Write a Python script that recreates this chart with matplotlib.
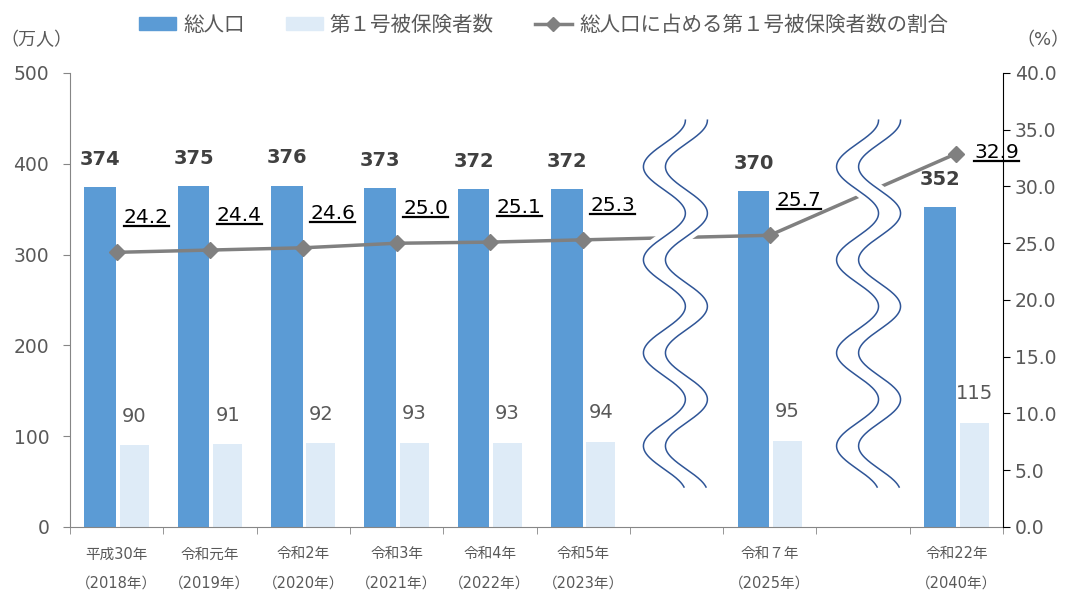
import numpy as np
import matplotlib
matplotlib.use("Agg")
import matplotlib.pyplot as plt
from matplotlib.transforms import blended_transform_factory
from matplotlib.lines import Line2D
from matplotlib.patches import Patch, Polygon

plt.rcParams['font.family'] = ['DejaVu Sans', 'Noto Sans CJK JP']

# 年次データ(スロット番号 6, 8 は波線の省略部分)
slots = [0, 1, 2, 3, 4, 5, 7, 9]
year_labels = ['平成30年\n（2018年）', '令和元年\n（2019年）', '令和2年\n（2020年）',
               '令和3年\n（2021年）', '令和4年\n（2022年）', '令和5年\n（2023年）',
               '令和７年\n（2025年）', '令和22年\n（2040年）']
total_pop = [374, 375, 376, 373, 372, 372, 370, 352]      # 総人口(万人)
insured_1 = [90, 91, 92, 93, 93, 94, 95, 115]             # 第１号被保険者数(万人)
ratio = [24.2, 24.4, 24.6, 25.0, 25.1, 25.3, 25.7, 32.9]  # 割合(%)
break_slots = [6, 8.07]

blue = '#5B9BD5'
light = '#DEEBF7'
gray_line = '#808080'
txt_gray = '#595959'

fig = plt.figure(figsize=(10.73, 5.92), dpi=100)
ax = fig.add_axes([0.0652, 0.1098, 0.8696, 0.7669])
ax2 = ax.twinx()

x = np.array(slots, dtype=float)
ax.bar(x - 0.175, total_pop, width=0.34, color=blue, zorder=2)
ax.bar(x + 0.19, insured_1, width=0.31, color=light, zorder=2)

for xi, v in zip(x, total_pop):
    ax.annotate(str(v), (xi - 0.175, v), xytext=(0, 20), textcoords='offset points',
                ha='center', va='center', fontsize=14, fontweight='bold', color='#404040')
for xi, v in zip(x, insured_1):
    ax.annotate(str(v), (xi + 0.19, v), xytext=(0, 21), textcoords='offset points',
                ha='center', va='center', fontsize=14, color=txt_gray)

ax.set_xlim(-0.5, 9.5)
ax.set_ylim(0, 500)
ax.set_yticks(np.arange(0, 501, 100))
ax.set_xticks(x)
ax.set_xticklabels(year_labels, fontsize=10.5, color=txt_gray, linespacing=2.2)
ax.set_xticks(np.arange(-0.5, 9.6, 1), minor=True)
ax.tick_params(axis='x', which='major', length=0, pad=14)
ax.tick_params(axis='x', which='minor', length=5, color='#868686')
ax.tick_params(axis='y', length=5, pad=10, color='#868686', labelsize=13.5, labelcolor=txt_gray)
for s in ['top', 'right']:
    ax.spines[s].set_visible(False)
ax.spines['left'].set_color('#868686')
ax.spines['bottom'].set_color('#868686')

# 割合の折れ線
ax2.plot(x, ratio, color=gray_line, lw=2.5, marker='D', markersize=8, zorder=3)
ratio_texts = []
for i, (xi, v) in enumerate(zip(x, ratio)):
    off = (13, 1) if i == len(ratio) - 1 else (5, 25)
    t = ax2.annotate('%.1f' % v, (xi, v), xytext=off,
                     textcoords='offset points', ha='left', va='center',
                     fontsize=14.5, color='black', zorder=5)
    ratio_texts.append(t)
ax2.set_ylim(0, 40)
ax2.set_yticks(np.arange(0, 40.1, 5))
ax2.set_yticklabels(['%.1f' % t for t in np.arange(0, 40.1, 5)])
ax2.tick_params(axis='y', length=5, color='black', labelsize=13.5, labelcolor=txt_gray)
for s in ['top', 'left', 'bottom']:
    ax2.spines[s].set_visible(False)
ax2.spines['right'].set_color('black')

# 省略を示す波線(周りを白で塗りつぶして折れ線を切る)
trans = blended_transform_factory(ax2.transData, ax2.transAxes)
yy = np.linspace(0.896, 0.088, 400)
phase = 2 * np.pi * (0.896 - yy) / 0.205
amp = 0.225
margin = 0.1
for c in break_slots:
    left = c - 0.118 + amp * np.cos(phase) - amp * 0.05
    right = left + 0.236
    verts = np.vstack([np.column_stack([left - margin, yy]),
                       np.column_stack([right[::-1] + margin, yy[::-1]])])
    ax2.add_patch(Polygon(verts, closed=True, facecolor='white', edgecolor='none',
                          transform=trans, zorder=4))
    ax2.plot(left, yy, color='#2F5597', lw=1.1, transform=trans, zorder=4.5)
    ax2.plot(right, yy, color='#2F5597', lw=1.1, transform=trans, zorder=4.5)

fig.text(0.0, 0.932, '（万人）', fontsize=13, color=txt_gray, ha='left', va='center')
fig.text(0.947, 0.932, '（%）', fontsize=13, color=txt_gray, ha='left', va='center')

handles = [Patch(color=blue), Patch(color=light),
           Line2D([], [], color=gray_line, lw=2.5, marker='D', markersize=7)]
labels = ['総人口', '第１号被保険者数', '総人口に占める第１号被保険者数の割合']
fig.legend(handles, labels, loc='center', bbox_to_anchor=(0.5065, 0.958), ncol=3,
           frameon=False, fontsize=14.8, labelcolor=txt_gray, handlelength=1.8,
           handleheight=0.6, handletextpad=0.35, columnspacing=2.0)

# 割合ラベルに下線を引く
fig.canvas.draw()
inv = fig.transFigure.inverted()
for t in ratio_texts:
    bb = t.get_window_extent()
    (x0, y0), (x1, _) = inv.transform([(bb.x0, bb.y0 + 1), (bb.x1, bb.y0)])
    fig.add_artist(Line2D([x0, x1], [y0, y0], color='black', lw=1.6, zorder=6))

fig.savefig('out.png', dpi=100)
